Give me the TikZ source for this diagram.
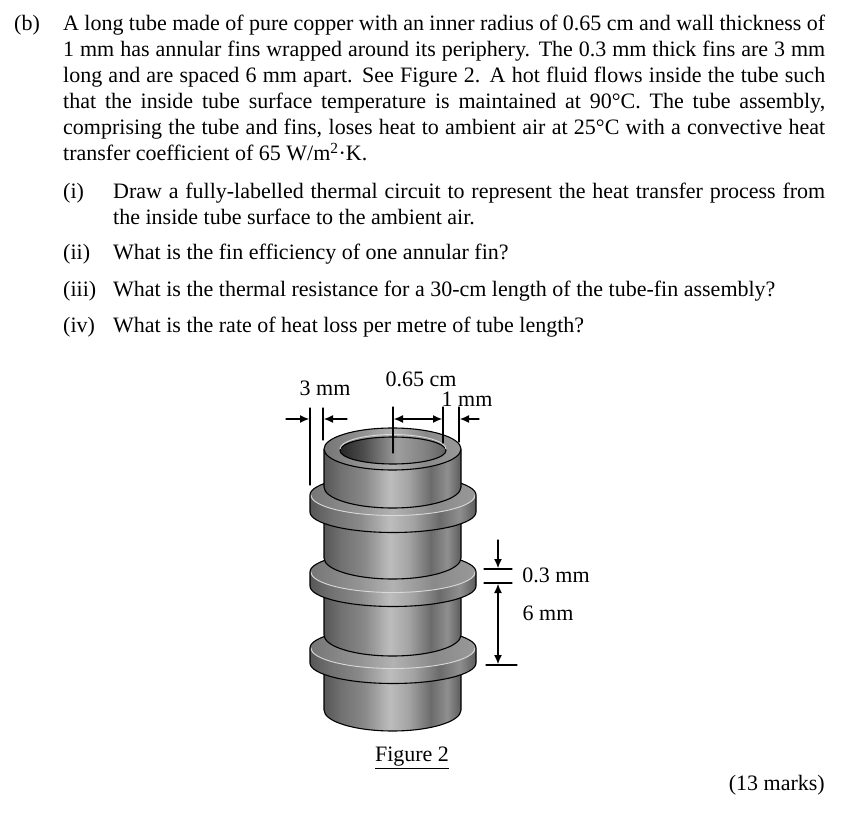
\documentclass[tikz,border=0pt]{standalone}
\usepackage{fontspec}
\setmainfont{Liberation Serif}
\usetikzlibrary{arrows.meta}

\pgfdeclarehorizontalshading{tubeshade}{100bp}{
  color(0bp)=(black!66); color(25bp)=(black!66); color(31bp)=(black!56);
  color(40bp)=(black!46); color(49bp)=(black!26); color(56bp)=(black!36);
  color(64bp)=(black!58); color(70bp)=(black!44); color(75bp)=(black!64);
  color(100bp)=(black!64)}
\pgfdeclarehorizontalshading{fintopshade}{100bp}{
  color(0bp)=(black!54); color(25bp)=(black!54); color(40bp)=(black!42);
  color(50bp)=(black!30); color(62bp)=(black!46); color(75bp)=(black!40);
  color(100bp)=(black!40)}
\pgfdeclarehorizontalshading{boreshade}{100bp}{
  color(0bp)=(black!85); color(25bp)=(black!85); color(36bp)=(black!70);
  color(52bp)=(black!38); color(66bp)=(black!50); color(75bp)=(black!62);
  color(100bp)=(black!62)}

\tikzset{
  txt/.style={anchor=base west,inner sep=0pt,font=\fontsize{22}{26}\selectfont},
  lbl/.style={inner sep=0pt,font=\fontsize{22}{24}\selectfont},
  outline/.style={draw=black,line width=1.1pt},
  dimline/.style={line width=1.1pt},
  dimarrow/.style={line width=1.1pt}
}

\begin{document}
\begin{tikzpicture}[x=1pt,y=-1pt,cap=round,>={Latex[length=9pt,width=8pt]}]
        \useasboundingbox (0,0) rectangle (847,821);

        % the question text, one line at a time
        \node[txt] (part) at (14,31) {(b)};
        \foreach \i/\yy/\txt in {
            1/31/{A long tube made of pure copper with an inner radius of 0.65 cm and wall thickness of},
            2/57/{1 mm has annular fins wrapped around its periphery. The 0.3 mm thick fins are 3 mm},
            3/83/{long and are spaced 6 mm apart. See Figure 2. A hot fluid flows inside the tube such},
            4/109/{that the inside tube surface temperature is maintained at 90°C. The tube assembly,},
            5/135/{comprising the tube and fins, loses heat to ambient air at 25°C with a convective heat}}
                \node[txt] (line\i) at (63,\yy) {\makebox[762pt][s]{\txt}};
        \node[txt] (line6) at (63,161) {transfer coefficient of 65 W/m\textsuperscript{2}·K.};

        % the sub-questions
        \foreach \i/\yy/\mk in {1/199/(i),2/260/(ii),3/297/(iii),4/333/(iv)}
                \node[txt] (mark\i) at (63,\yy) {\mk};
        \node[txt] (sub1) at (113,199) {\makebox[712pt][s]{Draw a fully-labelled thermal circuit to represent the heat transfer process from}};
        \node[txt] (sub1b) at (113,225) {the inside tube surface to the ambient air.};
        \node[txt] (sub2) at (113,260) {What is the fin efficiency of one annular fin?};
        \node[txt] (sub3) at (113,297) {What is the thermal resistance for a 30-cm length of the tube-fin assembly?};
        \node[txt] (sub4) at (113,333) {What is the rate of heat loss per metre of tube length?};

        % the tube sections and the fins, from the bottom up
        \foreach \t/\c/\f/\h in {660/710/648/15,580/635/572/14,505/558/495/17} {
                \path[outline,shading=tubeshade] (324,\t) -- (324,\c)
                    arc[start angle=180,end angle=360,x radius=68.5pt,y radius=21pt]
                    -- (461,\t) -- cycle;
                % body of the fin
                \path[shading=tubeshade] (310,\f+\h) -- (310,\f)
                    arc[start angle=180,end angle=0,x radius=83pt,y radius=20.5pt]
                    -- (476,\f+\h)
                    arc[start angle=0,end angle=-180,x radius=83pt,y radius=20.5pt];
                % top face of the fin
                \path[shading=fintopshade] (393,\f) ellipse (83pt and 20.5pt);
                \draw[white!85!black,line width=0.9pt] (311,\f)
                    arc[start angle=180,end angle=360,x radius=82pt,y radius=20.5pt];
                \draw[outline] (310,\f+\h) -- (310,\f)
                    arc[start angle=180,end angle=0,x radius=83pt,y radius=20.5pt]
                    -- (476,\f+\h)
                    arc[start angle=0,end angle=-180,x radius=83pt,y radius=20.5pt];
        }
        \path[outline,shading=tubeshade] (324,450) -- (324,487)
            arc[start angle=180,end angle=360,x radius=68.5pt,y radius=21pt]
            -- (461,450) -- cycle;

        % the end of the tube
        \path[outline,shading=fintopshade] (392.5,449) ellipse (68.5pt and 21pt);
        \path[outline,shading=boreshade] (393,450.5) ellipse (53pt and 13.5pt);
        \draw[white!85!black,line width=0.9pt] (340,449)
            arc[start angle=180,end angle=0,x radius=53pt,y radius=14.5pt];

        % the dimension lines at the top
        \foreach \x/\ya/\yb in {310/408/485,323/408/440,393/407/453,443/407/443,459/407/442}
                \draw[dimline] (\x,\ya) -- (\x,\yb);
        \draw[dimarrow,->] (286,419) -- (309,419);
        \draw[dimarrow,->] (347,419) -- (324,419);
        \draw[dimarrow,<->] (394,419) -- (442,419);
        \draw[dimarrow,->] (479,419) -- (460,419);

        % the dimension lines at the side
        \draw[dimline] (484,569) -- (512,569);
        \draw[dimline] (484,583) -- (512,583);
        \draw[dimline] (486,665) -- (517,665);
        \draw[dimarrow,->] (498,540) -- (498,568);
        \draw[dimarrow,<->] (498,584) -- (498,664);

        % the labels of the figure
        \node[lbl] (wallfin) at (325,388) {3 mm};
        \node[lbl] (radius) at (421,379) {0.65 cm};
        \node[lbl] (wall) at (467,399) {1 mm};
        \node[lbl] (thick) at (556,575) {0.3 mm};
        \node[lbl] (space) at (548,613) {6 mm};
        \node[lbl] (caption) at (412,758) {\underline{Figure 2}};
        \node[txt,anchor=base east] (marks) at (825,790) {(13 marks)};
\end{tikzpicture}
\end{document}
